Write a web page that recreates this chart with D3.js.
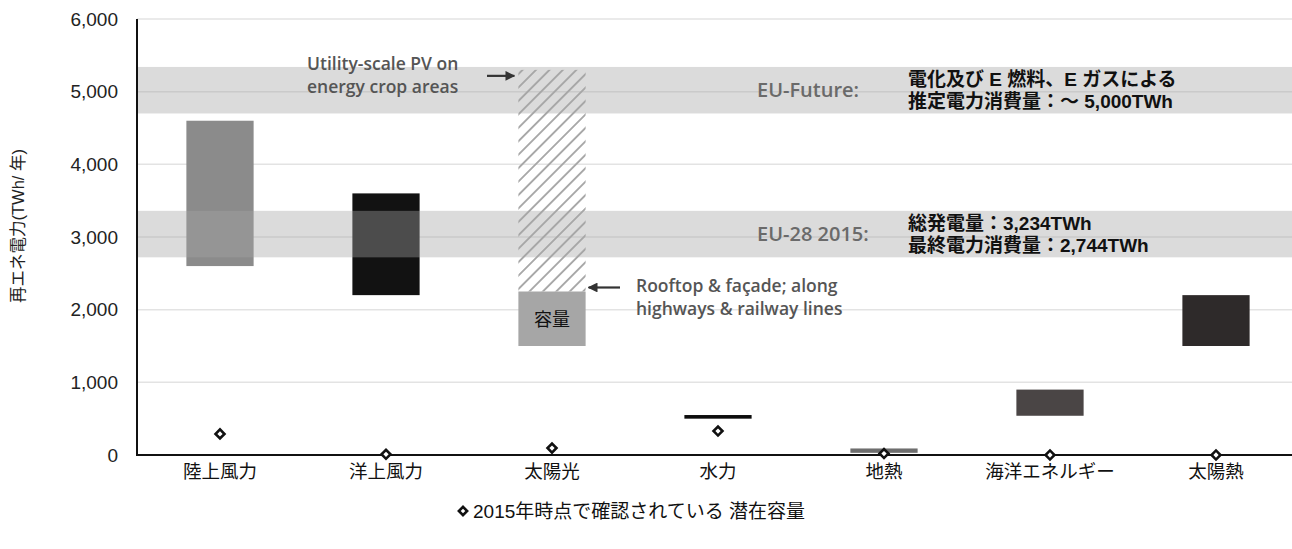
<!DOCTYPE html>
<html>
<head>
<meta charset="utf-8">
<script src="https://cdn.jsdelivr.net/npm/d3@7/dist/d3.min.js"></script>
<style>
  html, body { margin: 0; padding: 0; background: #fff; }
  svg { display: block; }
</style>
</head>
<body>
<svg id="chart" width="1292" height="549"></svg>
<script>
// Renewable potential ranges per source (TWh/year)
const categories = ["陸上風力", "洋上風力", "太陽光", "水力", "地熱", "海洋エネルギー", "太陽熱"];
const rangeLow   = [2600, 2200, 1500, 500, 30, 540, 1500];
const rangeHigh  = [4600, 3600, 2250, 550, 90, 900, 2200];
const rangeColor = ["#8b8b8b", "#121212", "#a6a6a6", "#0d0d0d", "#6e6e6e", "#4a4545", "#2e2a2a"];
// Extra PV potential on energy crop areas (hatched extension above 太陽光)
const pvCropLow = 2250;
const pvCropHigh = 5300;
// Potential identified as of 2015
const identified2015 = [290, 10, 95, 330, 20, 0, 0];
// Reference demand bands
const bandNames = ["EU-Future:", "EU-28 2015:"];
const bandLow  = [4700, 2720];
const bandHigh = [5340, 3360];
const bandNotes = [
  ["電化及び E 燃料、E ガスによる", "推定電力消費量：～ 5,000TWh"],
  ["総発電量：3,234TWh", "最終電力消費量：2,744TWh"]
];
const yTicks = [0, 1000, 2000, 3000, 4000, 5000, 6000];

const svg = d3.select("#chart");
const plotL = 137, plotR = 1299, plotT = 19, plotB = 455;

const x = d3.scaleBand().domain(categories).range([plotL, plotR]).paddingInner(0).paddingOuter(0);
const y = d3.scaleLinear().domain([0, 6000]).range([plotB, plotT]);
const barW = x.bandwidth() * 0.405;

// Latin glyphs come from Liberation Sans, kana/kanji fall through to Noto CJK
const jp = "'Liberation Sans', 'Noto Sans CJK JP', sans-serif";
const latin = "'Liberation Sans', Arial, sans-serif";
const annot = "'Open Sans', 'DejaVu Sans', sans-serif";

// hatch pattern
const defs = svg.append("defs");
const pat = defs.append("pattern")
  .attr("id", "hatch").attr("patternUnits", "userSpaceOnUse")
  .attr("width", 9.5).attr("height", 9.5)
  .attr("patternTransform", "rotate(45)");
pat.append("line").attr("x1", 0).attr("y1", 0).attr("x2", 0).attr("y2", 9.5)
  .attr("stroke", "#a8a8a8").attr("stroke-width", 3.8);

const arrow = defs.append("marker")
  .attr("id", "arrowhead").attr("viewBox", "0 0 10 10")
  .attr("refX", 9).attr("refY", 5)
  .attr("markerWidth", 4.5).attr("markerHeight", 4.5)
  .attr("orient", "auto-start-reverse");
arrow.append("path").attr("d", "M0,0 L10,5 L0,10 z").attr("fill", "#333");

// gridlines
svg.append("g").selectAll("line").data(yTicks.filter(d => d > 0)).join("line")
  .attr("x1", plotL).attr("x2", 1292)
  .attr("y1", d => y(d)).attr("y2", d => y(d))
  .attr("stroke", "#e3e3e3").attr("stroke-width", 1.5);

// range bars
svg.append("g").selectAll("rect").data(categories).join("rect")
  .attr("x", d => x(d) + (x.bandwidth() - barW) / 2)
  .attr("width", barW)
  .attr("y", (d, i) => y(rangeHigh[i]))
  .attr("height", (d, i) => y(rangeLow[i]) - y(rangeHigh[i]))
  .attr("fill", (d, i) => rangeColor[i]);

// hatched PV extension
const pvX = x("太陽光") + (x.bandwidth() - barW) / 2;
svg.append("rect")
  .attr("x", pvX).attr("width", barW)
  .attr("y", y(pvCropHigh)).attr("height", y(pvCropLow) - y(pvCropHigh))
  .attr("fill", "url(#hatch)");

svg.append("text")
  .attr("x", x("太陽光") + x.bandwidth() / 2)
  .attr("y", y((1500 + 2250) / 2) + 7)
  .attr("text-anchor", "middle")
  .attr("font-family", jp).attr("font-size", 18).attr("fill", "#111")
  .text("容量");

// translucent demand bands
svg.append("g").selectAll("rect").data(bandNames).join("rect")
  .attr("x", plotL).attr("width", 1292 - plotL)
  .attr("y", (d, i) => y(bandHigh[i]))
  .attr("height", (d, i) => y(bandLow[i]) - y(bandHigh[i]))
  .attr("fill", "#a6a6a6").attr("fill-opacity", 0.4);

// band labels
const bandG = svg.append("g");
bandNames.forEach((name, i) => {
  const mid = y((bandLow[i] + bandHigh[i]) / 2);
  bandG.append("text")
    .attr("x", 757).attr("y", mid + 7)
    .attr("font-family", annot).attr("font-weight", 600).attr("font-size", 20)
    .attr("fill", "#6a6a6a").text(name);
  bandNotes[i].forEach((line, j) => {
    bandG.append("text")
      .attr("x", 908).attr("y", mid - 4 + j * 22)
      .attr("font-family", jp).attr("font-weight", 700).attr("font-size", 19)
      .attr("fill", "#111").text(line);
  });
});

// annotations for the PV bar
const ann = svg.append("g").attr("font-family", annot).attr("font-weight", 600)
  .attr("font-size", 17.5).attr("fill", "#555");
ann.append("text").attr("x", 307).attr("y", 70).text("Utility-scale PV on");
ann.append("text").attr("x", 307).attr("y", 93).text("energy crop areas");
ann.append("text").attr("x", 636).attr("y", 292).text("Rooftop & façade; along");
ann.append("text").attr("x", 636).attr("y", 315).text("highways & railway lines");

svg.append("line")
  .attr("x1", 487).attr("x2", pvX - 4)
  .attr("y1", y(pvCropHigh) + 6).attr("y2", y(pvCropHigh) + 6)
  .attr("stroke", "#333").attr("stroke-width", 2.2).attr("marker-end", "url(#arrowhead)");
svg.append("line")
  .attr("x1", 620).attr("x2", pvX + barW + 3)
  .attr("y1", y(pvCropLow) - 4).attr("y2", y(pvCropLow) - 4)
  .attr("stroke", "#333").attr("stroke-width", 2.2).attr("marker-end", "url(#arrowhead)");

// axes
svg.append("line").attr("x1", plotL).attr("x2", plotL).attr("y1", plotT).attr("y2", plotB)
  .attr("stroke", "#111").attr("stroke-width", 2);
svg.append("line").attr("x1", plotL - 1).attr("x2", 1292).attr("y1", plotB).attr("y2", plotB)
  .attr("stroke", "#111").attr("stroke-width", 2);

const yAxis = svg.append("g").attr("transform", `translate(${plotL},0)`)
  .call(d3.axisLeft(y).tickValues(yTicks).tickFormat(d3.format(",")).tickSize(0).tickPadding(19));
yAxis.select(".domain").remove();
yAxis.selectAll("text").attr("font-family", latin).attr("font-size", 19).attr("fill", "#222");

const xAxis = svg.append("g").attr("transform", `translate(0,${plotB})`)
  .call(d3.axisBottom(x).tickSize(0).tickPadding(10));
xAxis.select(".domain").remove();
xAxis.selectAll("text").attr("font-family", jp).attr("font-size", 18.5).attr("fill", "#111");

// y axis title
svg.append("text")
  .attr("transform", "translate(24,226) rotate(-90)")
  .attr("text-anchor", "middle")
  .attr("font-family", jp).attr("font-size", 16.5).attr("fill", "#222")
  .text("再エネ電力(TWh/ 年)");

// 2015 identified potential markers
const diamond = d3.symbol().type(d3.symbolSquare).size(40);
svg.append("g").selectAll("path").data(categories).join("path")
  .attr("transform", (d, i) => `translate(${x(d) + x.bandwidth() / 2},${y(identified2015[i])}) rotate(45)`)
  .attr("d", diamond)
  .attr("fill", "#fff").attr("stroke", "#111").attr("stroke-width", 2.6);

// legend
const lg = svg.append("g").attr("transform", "translate(463,511)");
lg.append("path").attr("d", d3.symbol().type(d3.symbolSquare).size(34)).attr("transform", "rotate(45)")
  .attr("fill", "#fff").attr("stroke", "#111").attr("stroke-width", 2.6);
lg.append("text").attr("x", 10).attr("y", 7)
  .attr("font-family", jp).attr("font-size", 19).attr("fill", "#111")
  .text("2015年時点で確認されている 潜在容量");
</script>
</body>
</html>
